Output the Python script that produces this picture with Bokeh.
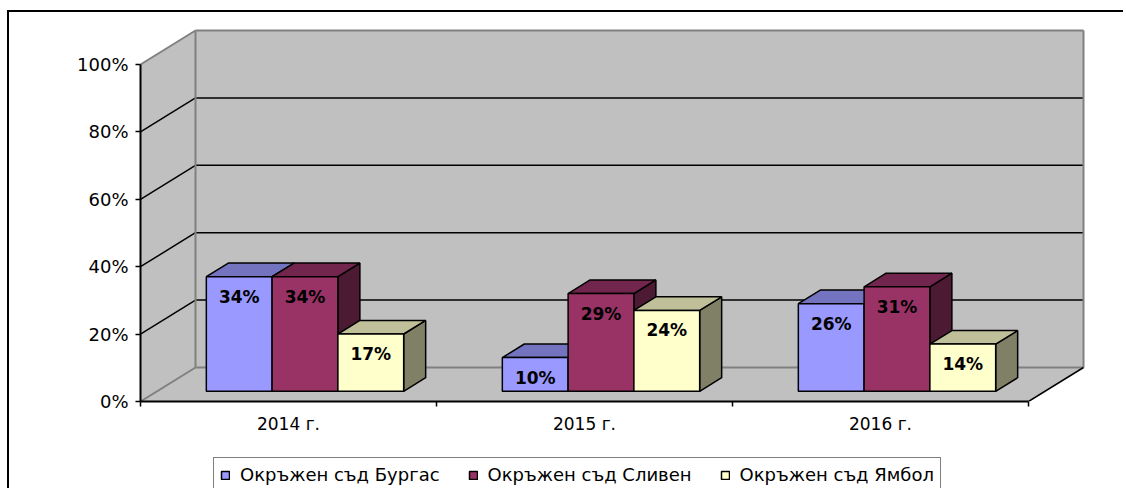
from bokeh.plotting import figure
from bokeh.layouts import column
from bokeh.models import Range1d, FixedTicker, LinearAxis, Legend, LegendItem
from bokeh.embed import file_html
from bokeh.resources import INLINE
from bokeh.core.properties import value

# ---------------- data ----------------
categories = ["2014 г.", "2015 г.", "2016 г."]
series_names = ["Окръжен съд Бургас", "Окръжен съд Сливен", "Окръжен съд Ямбол"]
burgas = [34, 10, 26]
sliven = [34, 29, 31]
yambol = [17, 24, 14]
y_ticks = [0, 20, 40, 60, 80, 100]
y_tick_labels = ["0%", "20%", "40%", "60%", "80%", "100%"]

series_values = [burgas, sliven, yambol]

# ---------------- styles ----------------
front_colors = ["#9999FF", "#993366", "#FFFFCC"]
top_colors = ["#7373BF", "#73264D", "#BFBF99"]
side_colors = ["#4D4D80", "#4D1A33", "#808066"]
wall_fill = "#C0C0C0"
wall_edge = "#808080"
FONT = "DejaVu Sans"
BORDER = "2px solid black"

# ---------------- geometry (pixels -> data units) ----------------
W = 1116
H1 = 436
H2 = 42
frame_left = 131
frame_bottom = 389
px_per_cat = 296.0
px_per_pct = 3.37
depth_px = (55.0, 34.0)

x0 = -0.5
x1 = len(categories) - 0.5
DX = depth_px[0] / px_per_cat
DY = depth_px[1] / px_per_pct
ymax = y_ticks[-1]
z0, z1 = 0.3, 0.7
gap = 0.75
bw = 1.0 / (len(series_values) + 2 * gap)

p = figure(width=W, height=H1, output_backend="svg", toolbar_location=None,
           x_range=Range1d(x0, x0 + (W - frame_left) / px_per_cat),
           y_range=Range1d(0, frame_bottom / px_per_pct),
           x_axis_type=None, y_axis_type=None,
           min_border_left=frame_left, min_border_right=0, min_border_top=0,
           min_border_bottom=H1 - frame_bottom)
p.outline_line_color = None
p.background_fill_color = "white"
p.margin = (10, 0, 0, 7)
p.styles = {"border-left": BORDER, "border-top": BORDER}

# ---------------- walls & floor ----------------
p.patch([x0, x0 + DX, x0 + DX, x0], [0, DY, ymax + DY, ymax],
        fill_color=wall_fill, line_color=None)
p.patch([x0 + DX, x1 + DX, x1 + DX, x0 + DX], [DY, DY, ymax + DY, ymax + DY],
        fill_color=wall_fill, line_color=None)
p.patch([x0, x1, x1 + DX, x0 + DX], [0, 0, DY, DY],
        fill_color=wall_fill, line_color=None)

inner = y_ticks[1:-1]
edge = [y_ticks[0], y_ticks[-1]]
p.multi_line([[x0 + DX, x1 + DX] for t in inner], [[t + DY, t + DY] for t in inner],
             line_color="black", line_width=1.5)
p.multi_line([[x0, x0 + DX] for t in inner], [[t, t + DY] for t in inner],
             line_color="black", line_width=1.5)
p.multi_line([[x0 + DX, x1 + DX] for t in edge], [[t + DY, t + DY] for t in edge],
             line_color=wall_edge, line_width=2)
p.multi_line([[x0, x0 + DX] for t in edge], [[t, t + DY] for t in edge],
             line_color=wall_edge, line_width=2)
p.multi_line([[x0 + DX, x0 + DX], [x1 + DX, x1 + DX]], [[DY, ymax + DY], [DY, ymax + DY]],
             line_color=wall_edge, line_width=2)
p.line([x1, x1 + DX], [0, DY], line_color="black", line_width=1.5)

# ---------------- bars ----------------
for s, vals in enumerate(series_values):
    fx, fy, tx, ty, sx, sy = [], [], [], [], [], []
    lx, ly, lt = [], [], []
    for c, v in enumerate(vals):
        xl = c - 0.5 + gap * bw + s * bw
        xr = xl + bw
        a0x, a0y = z0 * DX, z0 * DY
        a1x, a1y = z1 * DX, z1 * DY
        fx.append([xl + a0x, xr + a0x, xr + a0x, xl + a0x])
        fy.append([a0y, a0y, v + a0y, v + a0y])
        tx.append([xl + a0x, xr + a0x, xr + a1x, xl + a1x])
        ty.append([v + a0y, v + a0y, v + a1y, v + a1y])
        sx.append([xr + a0x, xr + a1x, xr + a1x, xr + a0x])
        sy.append([a0y, a1y, v + a1y, v + a0y])
        lx.append((xl + xr) / 2 + a0x)
        ly.append(v + a0y - 20 / px_per_pct)
        lt.append(f"{v}%")
    p.patches(sx, sy, fill_color=side_colors[s], line_color="black", line_width=1.5)
    p.patches(tx, ty, fill_color=top_colors[s], line_color="black", line_width=1.5)
    p.patches(fx, fy, fill_color=front_colors[s], line_color="black", line_width=1.5)
    p.text(lx, ly, text=lt, text_font=value(FONT), text_font_style="bold",
           text_font_size="17px", text_align="center", text_baseline="middle",
           text_color="black")

# ---------------- axes ----------------
yax = LinearAxis(ticker=FixedTicker(ticks=y_ticks, minor_ticks=[]), bounds=(0, ymax),
                 major_label_overrides=dict(zip(y_ticks, y_tick_labels)),
                 axis_line_width=2, axis_line_color="black",
                 major_tick_out=5, major_tick_in=0, major_tick_line_width=1.5,
                 minor_tick_out=0, minor_tick_in=0,
                 major_label_standoff=7,
                 major_label_text_font=FONT, major_label_text_font_size="18px",
                 major_label_text_color="black")
p.add_layout(yax, "left")

cat_pos = list(range(len(categories)))
xax = LinearAxis(ticker=FixedTicker(ticks=cat_pos,
                                    minor_ticks=[c - 0.5 for c in cat_pos] + [x1]),
                 bounds=(x0, x1),
                 major_label_overrides=dict(zip(cat_pos, categories)),
                 axis_line_width=2, axis_line_color="black",
                 major_tick_out=0, major_tick_in=0,
                 minor_tick_out=5, minor_tick_in=0, minor_tick_line_width=1.5,
                 minor_tick_line_color="black",
                 major_label_standoff=7,
                 major_label_text_font=FONT, major_label_text_font_size="17px",
                 major_label_text_color="black")
p.add_layout(xax, "below")

# ---------------- legend strip ----------------
q = figure(width=W, height=H2, output_backend="svg", toolbar_location=None,
           x_range=Range1d(0, 1), y_range=Range1d(0, 1),
           x_axis_type=None, y_axis_type=None,
           min_border_left=0, min_border_right=0, min_border_top=0, min_border_bottom=0)
q.outline_line_color = None
q.margin = (0, 0, 0, 7)
q.styles = {"border-left": BORDER}

nan = float("nan")
legend_items = []
for s, name in enumerate(series_names):
    r = q.patches(xs=[[nan]], ys=[[nan]], fill_color=front_colors[s], line_color="black",
                  line_width=1.5)
    legend_items.append(LegendItem(label=name, renderers=[r]))

legend = Legend(items=legend_items, location=(73, -4), orientation="horizontal",
                glyph_width=10, glyph_height=10, label_standoff=10, spacing=28,
                padding=6, margin=0, border_line_color="black", border_line_width=1.5,
                label_text_font=FONT, label_text_font_size="18px",
                label_text_color="black",
                background_fill_color="white", background_fill_alpha=1.0)
q.add_layout(legend, "center")

layout = column(p, q, spacing=0)
open("out.html", "w").write(file_html(layout, INLINE))
